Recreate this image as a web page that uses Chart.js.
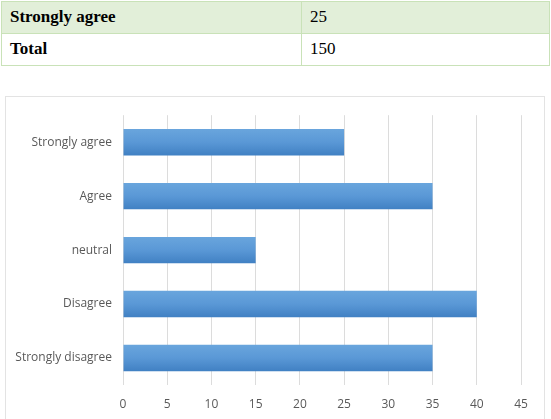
<!DOCTYPE html>
<html>
<head>
<meta charset="utf-8">
<script src="https://cdn.jsdelivr.net/npm/chart.js@4.4.1/dist/chart.umd.min.js"></script>
<style>
  html, body { margin: 0; padding: 0; background: #ffffff; width: 551px; height: 419px; overflow: hidden; }
  table { position: absolute; left: 1px; top: 1px; width: 549px; border-collapse: collapse;
          font-family: "Liberation Serif", "Times New Roman", serif; font-size: 17px; color: #000; }
  td { border: 1px solid #c9e2b8; height: 32px; padding: 0 0 0 8px; box-sizing: border-box; vertical-align: top; line-height: 29px; }
  tr.first td { background: #e2efd9; }
  td.c1 { width: 300px; font-weight: bold; }
  #box { position: absolute; left: 5px; top: 96px; width: 540px; height: 330px; border: 1px solid #e3e3e3; box-sizing: border-box; }
  #wrap { position: absolute; left: 6px; top: 97px; width: 538px; height: 322px; }
</style>
</head>
<body>
<table>
  <tr class="first"><td class="c1" id="r1a"></td><td id="r1b"></td></tr>
  <tr><td class="c1" id="r2a"></td><td id="r2b"></td></tr>
</table>
<div id="box"></div>
<div id="wrap"><canvas id="c" width="538" height="322"></canvas></div>
<script>
// Table rows
const tableLabels = ['Strongly agree', 'Total'];
const tableValues = [25, 150];

// Chart data (bottom to top)
const categories = ['Strongly disagree', 'Disagree', 'neutral', 'Agree', 'Strongly agree'];
const counts = [35, 40, 15, 35, 25];
const xTicks = [0, 5, 10, 15, 20, 25, 30, 35, 40, 45];

document.getElementById('r1a').textContent = tableLabels[0];
document.getElementById('r1b').textContent = tableValues[0];
document.getElementById('r2a').textContent = tableLabels[1];
document.getElementById('r2b').textContent = tableValues[1];

function barFill(ctx) {
  const chart = ctx.chart;
  const ys = chart.scales && chart.scales.y;
  if (!ys || ctx.dataIndex === undefined) return '#5b9bd5';
  const yc = ys.getPixelForValue(ctx.dataIndex);
  const h = 14;
  if (!isFinite(yc)) return '#5b9bd5';
  const g = chart.ctx.createLinearGradient(0, yc - h, 0, yc + h);
  g.addColorStop(0, '#6aa6dd');
  g.addColorStop(0.5, '#5a98d6');
  g.addColorStop(1, '#3f7fc2');
  return g;
}

new Chart(document.getElementById('c'), {
  type: 'bar',
  data: {
    labels: categories,
    datasets: [{
      data: counts,
      backgroundColor: barFill,
      borderWidth: 0,
      categoryPercentage: 1,
      barPercentage: 0.49
    }]
  },
  options: {
    indexAxis: 'y',
    responsive: false,
    animation: false,
    devicePixelRatio: 1,
    layout: { padding: { left: 0, right: 23, top: 16, bottom: 0 } },
    plugins: { legend: { display: false }, tooltip: { enabled: false } },
    scales: {
      x: {
        min: 0, max: 45,
        afterBuildTicks: (s) => { s.ticks = xTicks.map(v => ({ value: v })); },
        grid: { color: '#dcdcdc', drawTicks: false },
        border: { display: false },
        ticks: { color: '#595959', padding: 12, font: { family: 'Open Sans', size: 12 } },
        afterFit: (s) => { s.height = 34; }
      },
      y: {
        reverse: true,
        grid: { display: false, drawTicks: false },
        border: { display: false },
        ticks: { color: '#595959', padding: 11, font: { family: 'Open Sans', size: 12 } },
        afterFit: (s) => { s.width = 117; }
      }
    }
  }
});
</script>
</body>
</html>
